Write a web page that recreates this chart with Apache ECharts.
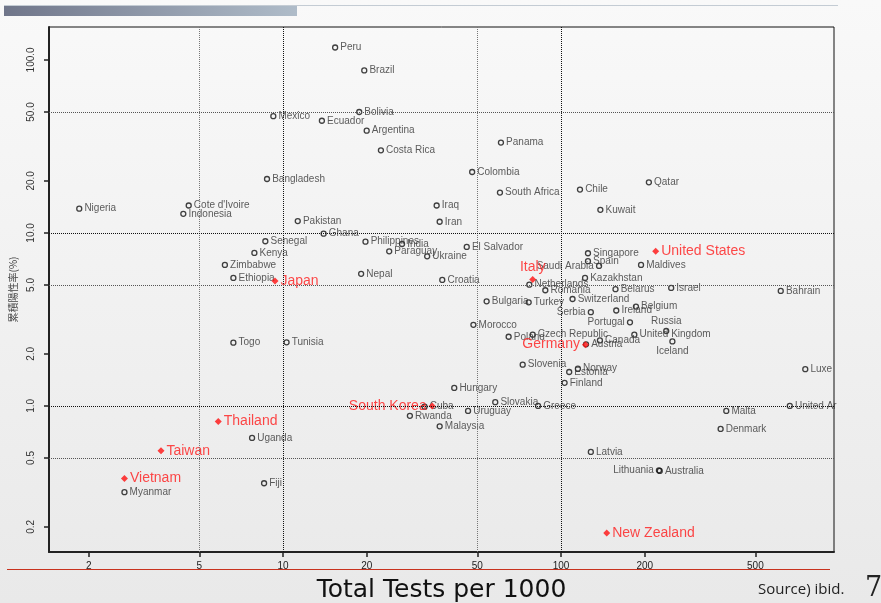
<!DOCTYPE html>
<html>
<head>
<meta charset="utf-8">
<script src="https://cdn.jsdelivr.net/npm/echarts@6/dist/echarts.min.js"></script>
<style>
  html, body { margin: 0; padding: 0; }
  #chart { width: 881px; height: 603px; }
</style>
</head>
<body>
<div id="chart"></div>
<script>
// countries: [name, total tests per 1000, cumulative positivity %]
var countries = ['Peru', 'Brazil', 'Bolivia', 'Mexico', 'Ecuador', 'Argentina', 'Costa Rica', 'Bangladesh',
  'Panama', 'Colombia', 'Qatar', 'Chile', 'South Africa', 'Nigeria', "Cote d'Ivoire", 'Indonesia',
  'Pakistan', 'Ghana', 'Senegal', 'Philippines', 'India', 'Kenya', 'Paraguay', 'Ukraine', 'Zimbabwe',
  'Nepal', 'Ethiopia', 'Croatia', 'Togo', 'Tunisia', 'Iraq', 'Iran', 'El Salvador', 'Kuwait',
  'Singapore', 'Spain', 'Saudi Arabia', 'Maldives', 'Kazakhstan', 'Netherlands', 'Romania', 'Belarus',
  'Israel', 'Bahrain', 'Bulgaria', 'Turkey', 'Switzerland', 'Serbia', 'Ireland', 'Belgium', 'Portugal',
  'Russia', 'United Kingdom', 'Iceland', 'Morocco', 'Poland', 'Czech Republic', 'Canada', 'Austria',
  'Slovenia', 'Norway', 'Estonia', 'Luxembourg', 'Finland', 'Hungary', 'Slovakia', 'Greece', 'Uruguay',
  'Malaysia', 'Malta', 'Denmark', 'United Arab Emirates', 'Latvia', 'Australia', 'Lithuania', 'Cuba',
  'Rwanda', 'Uganda', 'Myanmar', 'Fiji'];
var tests = [15.4, 19.6, 18.8, 9.23, 13.8, 20.0, 22.5, 8.76,
  60.8, 47.9, 207, 117, 60.3, 1.85, 4.58, 4.38,
  11.3, 14.0, 8.64, 19.8, 26.8, 7.89, 24.1, 33.0, 6.18,
  19.1, 6.63, 37.4, 6.63, 10.3, 35.7, 36.6, 45.8, 138.5,
  125, 125, 137, 194, 122, 76.9, 87.8, 157,
  249, 617, 54.0, 76.5, 110, 128, 158, 186, 177,
  239, 183.5, 251.5, 48.4, 64.8, 79.1, 138, 123,
  72.8, 115, 107, 756, 103, 41.3, 58.0, 82.7, 46.3,
  36.6, 393, 375, 665, 128, 226.5, 225, 32.3,
  28.6, 7.74, 2.69, 8.55];
var positivity = [118, 87, 50.0, 47.3, 44.5, 39.0, 30.0, 20.5,
  33.3, 22.5, 19.6, 17.8, 17.1, 13.8, 14.4, 12.9,
  11.7, 9.9, 8.95, 8.9, 8.63, 7.66, 7.83, 7.32, 6.53,
  5.8, 5.49, 5.35, 2.32, 2.33, 14.4, 11.6, 8.3, 13.6,
  7.63, 6.86, 6.44, 6.53, 5.49, 5.02, 4.66, 4.73,
  4.81, 4.62, 4.02, 3.97, 4.15, 3.48, 3.56, 3.75, 3.04,
  2.71, 2.58, 2.36, 2.94, 2.51, 2.58, 2.39, 2.27,
  1.73, 1.64, 1.57, 1.63, 1.36, 1.27, 1.05, 1.0, 0.935,
  0.762, 0.935, 0.736, 1.0, 0.542, 0.421, 0.424, 0.99,
  0.876, 0.653, 0.317, 0.357];

// highlighted countries
var keyCountries = ['Japan', 'United States', 'Italy', 'Germany', 'South Korea', 'Thailand', 'Taiwan', 'Vietnam', 'New Zealand'];
var keyTests = [9.36, 219, 79.1, 122.4, 34.4, 5.85, 3.64, 2.69, 146];
var keyPositivity = [5.27, 7.83, 5.37, 2.26, 1.0, 0.812, 0.55, 0.38, 0.184];

var xTicks = [2, 5, 10, 20, 50, 100, 200, 500];
var yTicks = [0.2, 0.5, 1, 2, 5, 10, 20, 50, 100];
var yTickLabels = ['0.2', '0.5', '1.0', '2.0', '5.0', '10.0', '20.0', '50.0', '100.0'];
var xGuidesDark = [10, 100];
var xGuidesLight = [5, 50];
var yGuidesDark = [10, 1];
var yGuidesLight = [50, 5, 0.5];
var xRange = [1.44, 959];
var yRange = [0.143, 155];

// label placement for crowded names
var labelPos = {
  'Saudi Arabia': 'left', 'Serbia': 'left', 'Portugal': 'left', 'Lithuania': 'left',
  'Russia': 'top', 'Iceland': 'bottom', 'Italy': 'top', 'Germany': 'left', 'South Korea': 'left'
};
var labelClip = { 'Luxembourg': 30, 'United Arab Emirates': 44 };

var lg = Math.log10;

function makeItem(name, x, y) {
  var item = { name: name, value: [lg(x), lg(y)] };
  var lab = {};
  if (labelPos[name]) lab.position = labelPos[name];
  if (labelClip[name]) { lab.width = labelClip[name]; lab.overflow = 'truncate'; lab.ellipsis = ''; }
  item.label = lab;
  return item;
}

var normalData = countries.map(function (n, i) { return makeItem(n, tests[i], positivity[i]); });
var keyData = keyCountries.map(function (n, i) { return makeItem(n, keyTests[i], keyPositivity[i]); });

function nearestLabel(v, ticks, labels) {
  var best = 0;
  for (var i = 1; i < ticks.length; i++) {
    if (Math.abs(lg(ticks[i]) - v) < Math.abs(lg(ticks[best]) - v)) best = i;
  }
  return labels ? labels[best] : String(ticks[best]);
}

var guideLines = [];
xGuidesDark.forEach(function (v) { guideLines.push({ xAxis: lg(v), lineStyle: { color: '#111' } }); });
xGuidesLight.forEach(function (v) { guideLines.push({ xAxis: lg(v), lineStyle: { color: '#777' } }); });
yGuidesDark.forEach(function (v) { guideLines.push({ yAxis: lg(v), lineStyle: { color: '#111' } }); });
yGuidesLight.forEach(function (v) { guideLines.push({ yAxis: lg(v), lineStyle: { color: '#555' } }); });

var chart = echarts.init(document.getElementById('chart'));

var option = {
  animation: false,
  backgroundColor: {
    type: 'linear', x: 0, y: 0, x2: 0, y2: 1,
    colorStops: [{ offset: 0, color: '#f9f9f9' }, { offset: 1, color: '#e9e9e9' }]
  },
  graphic: [
    { type: 'rect', shape: { x: 4, y: 5, width: 834, height: 1 }, style: { fill: '#c4ccd4' } },
    {
      type: 'rect', shape: { x: 4, y: 6, width: 293, height: 10 },
      style: {
        fill: {
          type: 'linear', x: 0, y: 0, x2: 1, y2: 0,
          colorStops: [{ offset: 0, color: '#70768a' }, { offset: 1, color: '#afbcc9' }]
        }
      }
    },
    { type: 'rect', shape: { x: 7, y: 569, width: 823, height: 1 }, style: { fill: '#c8321e' }, z: 0 },
    { type: 'text', left: 758, top: 582, style: { text: 'Source) ibid.', font: '15px "Open Sans", sans-serif', fill: '#222' } },
    { type: 'text', left: 865, top: 575, style: { text: '7', font: '27px "DejaVu Serif", serif', fill: '#222' } }
  ],
  grid: {
    left: 49, right: 47, top: 27, bottom: 51,
    outerBoundsMode: 'none',
    show: true, borderColor: '#111', borderWidth: 1, backgroundColor: 'transparent'
  },
  xAxis: {
    type: 'value',
    min: lg(xRange[0]), max: lg(xRange[1]),
    name: 'Total Tests per 1000',
    nameLocation: 'middle',
    nameGap: 26,
    nameTextStyle: { fontSize: 25, color: '#111', fontFamily: 'DejaVu Sans' },
    axisLine: { show: true, onZero: false, lineStyle: { color: '#222', width: 2 } },
    axisTick: { show: true, customValues: xTicks.map(lg), length: 5, lineStyle: { color: '#222', width: 1.5 } },
    axisLabel: {
      customValues: xTicks.map(lg), margin: 9, fontSize: 10, color: '#222', fontFamily: 'Liberation Sans',
      formatter: function (v) { return nearestLabel(v, xTicks); }
    },
    splitLine: { show: false }
  },
  yAxis: {
    type: 'value',
    min: lg(yRange[0]), max: lg(yRange[1]),
    name: '累積陽性率(%)',
    nameLocation: 'middle',
    nameGap: 30,
    nameTextStyle: { fontSize: 10, color: '#444', fontFamily: 'Noto Sans CJK JP' },
    axisLine: { show: true, onZero: false, lineStyle: { color: '#222', width: 2 } },
    axisTick: { show: true, customValues: yTicks.map(lg), length: 5, lineStyle: { color: '#222', width: 1.5 } },
    axisLabel: {
      customValues: yTicks.map(lg), rotate: 90, margin: 13, fontSize: 10, color: '#333', fontFamily: 'Liberation Sans',
      formatter: function (v) { return nearestLabel(v, yTicks, yTickLabels); }
    },
    splitLine: { show: false }
  },
  series: [
    {
      name: 'countries',
      type: 'scatter',
      symbol: 'circle',
      symbolSize: 5,
      itemStyle: { color: 'rgba(0,0,0,0)', borderColor: '#111', borderWidth: 1.3 },
      label: { show: true, formatter: '{b}', position: 'right', distance: 2, fontSize: 10, color: '#333', fontFamily: 'Liberation Sans' },
      emphasis: { disabled: true },
      data: normalData,
      markLine: {
        silent: true, symbol: 'none', label: { show: false },
        lineStyle: { type: 'dotted', width: 1 },
        data: guideLines
      }
    },
    {
      name: 'key',
      type: 'scatter',
      symbol: 'diamond',
      symbolSize: 7,
      itemStyle: { color: '#ff1010' },
      label: { show: true, formatter: '{b}', position: 'right', distance: 2, fontSize: 14, color: '#ff1a1a', fontFamily: 'Liberation Sans' },
      emphasis: { disabled: true },
      data: keyData,
      z: 3
    }
  ]
};

chart.setOption(option);
</script>
</body>
</html>
